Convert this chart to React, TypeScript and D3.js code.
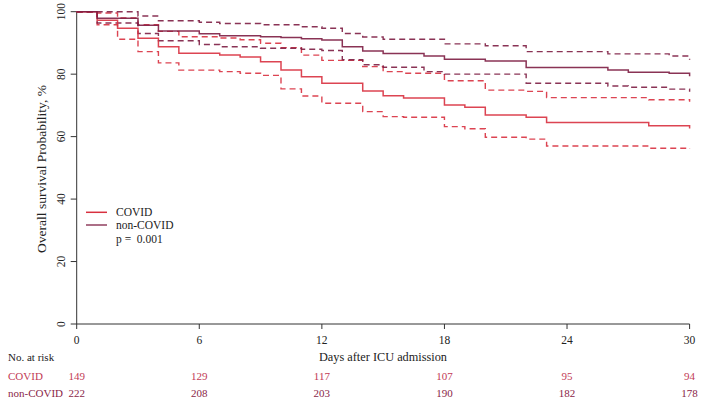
import React from "react";
import * as d3 from "d3";

// ---- Data (day, survival %) ----
const covidSurv: [number, number][] = [
  [0, 100], [1, 97.3], [2, 94.7], [3, 91.5], [4, 88.8], [5, 86.7], [7, 86.1], [8, 85.5], [9, 84.0],
  [10, 81.3], [11, 79.2], [12, 77.1], [14, 74.6], [15, 73.1], [16, 72.4], [18, 70.1], [19, 69.4],
  [20, 66.9], [22, 66.2], [23, 64.5], [28, 63.5], [30, 62.6],
];
const covidUpper: [number, number][] = [
  [0, 100], [1, 99.6], [2, 98.0], [3, 95.8], [4, 93.7], [5, 92.0], [7, 91.6], [8, 91.0], [9, 89.9],
  [10, 88.5], [11, 86.1], [12, 84.4], [14, 82.4], [15, 80.8], [16, 80.3], [18, 77.9], [20, 74.9],
  [22, 74.5], [23, 72.5], [28, 71.8], [30, 71.2],
];
const covidLower: [number, number][] = [
  [0, 100], [1, 95.8], [2, 91.2], [3, 87.2], [4, 83.6], [5, 81.3], [7, 80.8], [8, 80.3], [9, 79.6],
  [10, 75.3], [11, 73.0], [12, 70.7], [14, 68.0], [15, 66.4], [16, 66.2], [18, 63.2], [19, 62.5],
  [20, 59.8], [22, 59.2], [23, 57.0], [28, 56.3], [30, 56.0],
];
const nonCovidSurv: [number, number][] = [
  [0, 100], [1, 97.9], [3, 95.7], [4, 93.8], [6, 92.9], [7, 92.3], [9, 92.0], [10, 91.7], [11, 91.3],
  [12, 90.9], [13, 88.8], [14, 87.4], [15, 86.6], [17, 85.8], [18, 84.8], [20, 84.2], [22, 82.1],
  [26, 81.3], [27, 80.6], [29, 80.3], [30, 79.3],
];
const nonCovidUpper: [number, number][] = [
  [0, 100], [3, 98.6], [4, 97.1], [6, 96.6], [7, 96.2], [9, 95.8], [11, 95.2], [12, 94.7], [13, 93.0],
  [14, 91.9], [15, 91.2], [18, 89.7], [20, 89.1], [22, 87.2], [26, 86.5], [29, 85.8], [30, 84.6],
];
const nonCovidLower: [number, number][] = [
  [0, 100], [1, 96.4], [3, 93.0], [4, 90.7], [6, 89.5], [7, 88.8], [9, 88.3], [11, 88.0], [12, 87.6],
  [13, 84.6], [14, 83.0], [15, 82.2], [17, 80.8], [18, 80.0], [22, 77.1], [26, 76.2], [27, 75.8],
  [29, 75.2], [30, 74.4],
];

const xTicks = [0, 6, 12, 18, 24, 30];
const yTicks = [0, 20, 40, 60, 80, 100];
const groups = ["COVID", "non-COVID"];
const riskCovid = [149, 129, 117, 107, 95, 94];
const riskNonCovid = [222, 208, 203, 190, 182, 178];
const pValueText = "p =  0.001";

const W = 708;
const H = 403;
const COVID_COLOR = "#d8303f";
const NON_COLOR = "#7d1d42";
const COVID_TEXT = "#c23a55";
const NON_TEXT = "#8a2648";
const FONT = "'Liberation Serif', 'Times New Roman', serif";

export default function App() {
  const x = d3.scaleLinear().domain([0, 30]).range([76.7, 689.6]);
  const y = d3.scaleLinear().domain([0, 100]).range([324, 11.7]);

  const line = d3
    .line<[number, number]>()
    .x((d) => x(d[0]))
    .y((d) => y(d[1]))
    .curve(d3.curveStepAfter);

  // extend each curve to day 30 at its last level, then final drop at 30
  const withEnd = (arr: [number, number][]): [number, number][] => {
    const last = arr[arr.length - 1];
    const prev = arr[arr.length - 2];
    return [...arr.slice(0, -1), [30, prev[1]], last];
  };

  const series = [
    { data: covidUpper, color: COVID_COLOR, dash: "6,4", w: 1.4 },
    { data: covidLower, color: COVID_COLOR, dash: "6,4", w: 1.4 },
    { data: nonCovidUpper, color: NON_COLOR, dash: "6,4", w: 1.4 },
    { data: nonCovidLower, color: NON_COLOR, dash: "6,4", w: 1.4 },
    { data: covidSurv, color: COVID_COLOR, dash: undefined, w: 1.5 },
    { data: nonCovidSurv, color: NON_COLOR, dash: undefined, w: 1.5 },
  ];

  return (
    <svg
      width={W}
      height={H}
      style={{ position: "absolute", left: 0, top: 0, background: "#fff" }}
      fontFamily={FONT}
    >
      <rect width={W} height={H} fill="#fff" />
      {/* axes */}
      <line x1={x(0)} x2={x(30)} y1={y(0)} y2={y(0)} stroke="#333" strokeWidth={1} />
      <line x1={x(0)} x2={x(0)} y1={y(0)} y2={y(100)} stroke="#333" strokeWidth={1} />
      {xTicks.map((t) => (
        <g key={"xt" + t}>
          <line x1={x(t)} x2={x(t)} y1={y(0)} y2={y(0) + 5} stroke="#333" />
          <text x={x(t)} y={344} textAnchor="middle" fontSize={11.5} fill="#222">
            {t}
          </text>
        </g>
      ))}
      {yTicks.map((t) => (
        <g key={"yt" + t}>
          <line x1={x(0) - 6} x2={x(0)} y1={y(t)} y2={y(t)} stroke="#333" />
          <text
            transform={`translate(${65},${y(t)}) rotate(-90)`}
            textAnchor="middle"
            fontSize={11.5}
            fill="#222"
          >
            {t}
          </text>
        </g>
      ))}
      <text
        transform={`translate(${46},${169}) rotate(-90)`}
        textAnchor="middle"
        fontSize={13.5}
        fill="#222"
      >
        Overall survival Probability, %
      </text>
      <text x={383} y={361} textAnchor="middle" fontSize={12.3} fill="#222">
        Days after ICU admission
      </text>

      {/* curves */}
      {series.map((s, i) => (
        <path
          key={i}
          d={line(withEnd(s.data)) || ""}
          fill="none"
          stroke={s.color}
          strokeWidth={s.w}
          strokeDasharray={s.dash}
          strokeOpacity={0.9}
        />
      ))}

      {/* legend */}
      <line x1={86} x2={107} y1={212.3} y2={212.3} stroke={COVID_COLOR} strokeWidth={1.5} />
      <line x1={86} x2={107} y1={225} y2={225} stroke={NON_COLOR} strokeOpacity={0.85} strokeWidth={1.5} />
      <text x={116} y={216} fontSize={11.5} fill="#222">{groups[0]}</text>
      <text x={116} y={229} fontSize={11.5} fill="#222">{groups[1]}</text>
      <text x={116} y={243} fontSize={11.5} fill="#222" style={{ whiteSpace: "pre" }}>{pValueText}</text>

      {/* risk table */}
      <text x={8} y={361} fontSize={11} fill="#222">No. at risk</text>
      <text x={8} y={380} fontSize={11} fill={COVID_TEXT}>{groups[0]}</text>
      <text x={8} y={397} fontSize={11} fill={NON_TEXT}>{groups[1]}</text>
      {xTicks.map((t, i) => (
        <g key={"r" + t}>
          <text x={x(t)} y={380} textAnchor="middle" fontSize={11} fill={COVID_TEXT}>
            {riskCovid[i]}
          </text>
          <text x={x(t)} y={397} textAnchor="middle" fontSize={11} fill={NON_TEXT}>
            {riskNonCovid[i]}
          </text>
        </g>
      ))}
    </svg>
  );
}
